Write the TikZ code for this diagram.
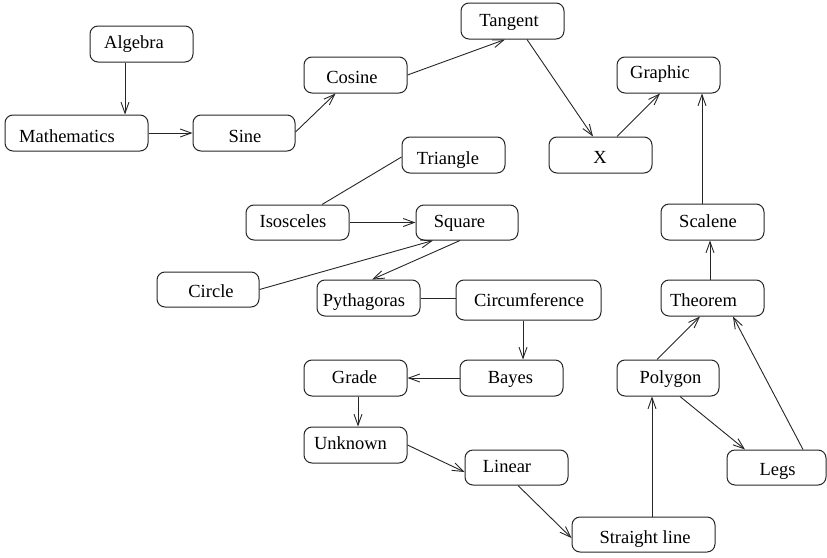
\documentclass[tikz,border=0pt]{standalone}
\usepackage{fontspec}
\setmainfont{Liberation Serif}
\usetikzlibrary{arrows.meta}

% \bx{name}{x1}{y1}{x2}{y2}{text x}{text baseline y}{text}
\newcommand{\bx}[8]{%
  \node[termbox, minimum width={(#4-#2)*1pt}, minimum height={(#5-#3)*1pt}]
    (#1) at ({(#2+#4)/2},{(#3+#5)/2}) {};
  \node[termtext] (#1-txt) at (#6,#7) {#8};
}

\begin{document}
\begin{tikzpicture}[x=1pt, y=-1pt,
  termbox/.style={draw=black!85, line width=1pt, rounded corners=8pt, inner sep=0pt},
  termtext/.style={anchor=base, inner sep=0pt, font=\fontsize{18.5}{20}\selectfont},
  arr/.style={draw=black!85, line width=0.9pt, -{Straight Barb[length=11pt, width=8pt, line width=0.9pt]}},
  lnk/.style={draw=black!85, line width=0.9pt}]

\useasboundingbox (0,0) rectangle (827,557);

% boxes
\bx{alg}{90}{26}{193}{62}{134}{48}{Algebra}
\bx{mat}{5}{115}{148}{151}{67}{142}{Mathematics}
\bx{sine}{193}{115}{295}{151}{245}{142}{Sine}
\bx{cos}{304}{57}{407}{93}{352}{83}{Cosine}
\bx{tan}{461}{3}{564}{39}{509}{26}{Tangent}
\bx{gra}{617}{57}{720}{93}{660}{78}{Graphic}
\bx{xx}{549}{137}{652}{173}{600}{163}{X}
\bx{tri}{402}{137}{505}{173}{448}{164}{Triangle}
\bx{iso}{246}{205}{349}{240}{293}{227}{Isosceles}
\bx{squ}{416}{205}{518}{240}{459.5}{227}{Square}
\bx{cir}{157}{272}{259}{307}{211}{297}{Circle}
\bx{pyt}{317}{280}{420}{316}{364}{306}{Pythagoras}
\bx{cfc}{456}{280}{601}{320}{529}{306}{Circumference}
\bx{bay}{460}{360}{563}{396}{510.5}{383}{Bayes}
\bx{grd}{304}{360}{407}{396}{354.5}{383}{Grade}
\bx{unk}{304}{427}{407}{463}{350.5}{449}{Unknown}
\bx{lin}{465}{450}{568}{485}{507}{472}{Linear}
\bx{str}{572}{517}{715}{552}{645}{543}{Straight line}
\bx{pol}{617}{360}{719}{396}{670.5}{383}{Polygon}
\bx{the}{661}{280}{764}{316}{703.5}{306}{Theorem}
\bx{legs}{727}{450}{826}{485}{777.5}{475}{Legs}
\bx{sca}{661}{204}{764}{240}{708}{227}{Scalene}

% connectors
\draw[arr] ([xshift=-16.5pt]alg.south) -- ([xshift=-16.5pt]alg.south |- mat.north);
\draw[arr] (mat.east) -- (sine.west);
\draw[arr] ([yshift=1pt]sine.east) -- ([xshift=-20pt]cos.south);
\draw[arr] (cos.east) -- ([xshift=-7.5pt]tan.south);
\draw[arr] ([xshift=14.5pt]tan.south) -- ([xshift=-7.5pt]xx.north);
\draw[arr] ([xshift=16.5pt]xx.north) -- ([xshift=-8.5pt]gra.south);
\draw[arr] ([xshift=-10.5pt]sca.north) -- ([xshift=-10.5pt]sca.north |- gra.south);
\draw[arr] ([xshift=-2.5pt]the.north) -- ([xshift=-2.5pt]the.north |- sca.south);
\draw[arr] ([xshift=-11pt]pol.north) -- ([xshift=-12.5pt]the.south);
\draw[arr] ([xshift=26.5pt]legs.north) -- ([xshift=20.5pt]the.south);
\draw[arr] ([xshift=12pt]pol.south) -- ([xshift=-31.5pt]legs.north);
\draw[arr] ([xshift=8.5pt]str.north) -- ([xshift=8.5pt]str.north |- pol.south);
\draw[arr] (unk.east) -- ([yshift=-4.5pt]lin.west);
\draw[arr] ([xshift=1.5pt]lin.south) -- ([yshift=-3.5pt]str.west);
\draw[arr] ([xshift=2.5pt]grd.south) -- ([xshift=2.5pt]grd.south |- unk.north);
\draw[arr] (bay.west) -- (grd.east);
\draw[arr] ([xshift=-5.5pt]cfc.south) -- ([xshift=-5.5pt]cfc.south |- bay.north);
\draw[lnk] (pyt.east) -- (pyt.east -| cfc.west);
\draw[arr] ([xshift=-7pt]squ.south) -- ([xshift=3.5pt]pyt.north);
\draw[arr] (cir.east) -- ([xshift=-34pt]squ.south);
\draw[arr] (iso.east) -- (squ.west);
\draw[lnk] ([xshift=24.5pt]iso.north) -- ([yshift=-2pt]tri.west);

\end{tikzpicture}
\end{document}
